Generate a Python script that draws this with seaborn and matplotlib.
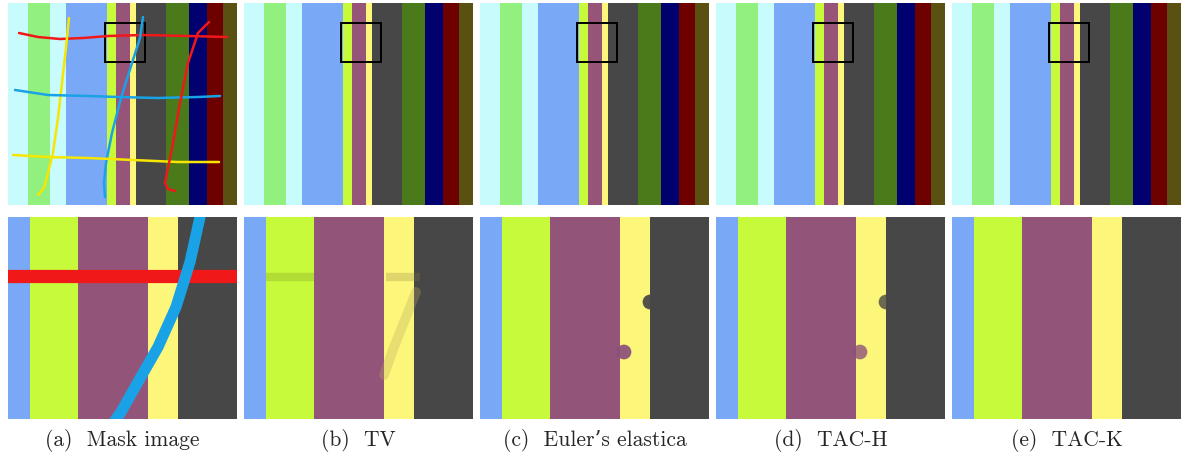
import numpy as np
import matplotlib.pyplot as plt
from matplotlib.colors import ListedColormap
from matplotlib.patches import Rectangle
import seaborn as sns

sns.set_theme(style="white")
plt.rcParams["font.family"] = ["cmr10", "DejaVu Serif"]

# stripe colours and widths (px) for the full test image (top row)
top_colors = ["#c8fbfb", "#92f07e", "#c8fbfb", "#78a8f6", "#c8fa3c", "#965479",
              "#fdf67a", "#474747", "#4a7a1a", "#00006e", "#6e0000", "#5a5012"]
top_widths = [20, 22, 16, 41, 9, 14, 6, 30, 23, 18, 16, 14]
img_height = 202

# zoomed region (bottom row)
zoom_colors = ["#78a8f6", "#c6fa3a", "#93547a", "#fcf67a", "#474747"]
zoom_widths = [22, 48, 70, 30, 59]

# zoom box in the top images (x0, y0, w, h)
zoom_box = (97, 20, 40, 39)

captions = ["(a)  Mask image", "(b)  TV", "(c)  Euler\u2019s elastica",
            "(d)  TAC-H", "(e)  TAC-K"]

# mask strokes in panel (a), pixel coords
red_h_x = [11, 30, 52, 75, 100, 135, 180, 219]
red_h_y = [30, 34, 36, 35, 33, 32, 33, 34]
yel_v_x = [61, 58, 54, 50, 45, 40, 36, 30]
yel_v_y = [15, 45, 80, 115, 150, 170, 185, 192]
blue_v_x = [135, 132, 124, 113, 104, 98, 96, 97]
blue_v_y = [14, 35, 60, 95, 130, 160, 180, 194]
blue_h_x = [7, 40, 80, 110, 150, 190, 212]
blue_h_y = [87, 92, 93, 94, 95, 94, 93]
yel_h_x = [5, 40, 80, 125, 170, 211]
yel_h_y = [152, 154, 155, 157, 159, 159]
red_v_x = [201, 190, 180, 172, 165, 159, 157, 160, 167]
red_v_y = [19, 30, 60, 100, 140, 170, 180, 186, 188]

# mask strokes in the zoomed panel (a)
zred_x = [0, 229]
zred_y = [59, 59]
zblue_x = [192, 182, 168, 150, 130, 113, 106]
zblue_y = [0, 45, 90, 130, 165, 195, 205]

# faint leftovers of the inpainting in zoomed (b), (c), (d)
tv_smear_x = [22, 70, 142, 176]
tv_smear_y = [60, 60, 60, 60]
tv_diag_x = [172, 162, 150, 140]
tv_diag_y = [75, 100, 130, 158]
dark_bump_x = [170, 170]
dark_bump_y = [85, 85]
purple_bump_x = [144, 144]
purple_bump_y = [135, 135]


def stripe_image(colors, widths, height):
    idx = np.repeat(np.arange(len(colors)), widths)
    return np.tile(idx, (height, 1)), ListedColormap(colors)


fig = plt.figure(figsize=(11.85, 4.58), dpi=100)
W, H = 1185, 458
lefts = [8, 244, 480, 716, 952]
pw, ph = 229, 202

top_img, top_cmap = stripe_image(top_colors, top_widths, img_height)
zoom_img, zoom_cmap = stripe_image(zoom_colors, zoom_widths, img_height)

for i, lx in enumerate(lefts):
    ax_t = fig.add_axes([lx / W, 1 - 205 / H, pw / W, ph / H])
    sns.heatmap(top_img, cmap=top_cmap, cbar=False, xticklabels=False,
                yticklabels=False, ax=ax_t, rasterized=True)
    ax_b = fig.add_axes([lx / W, 1 - 419 / H, pw / W, ph / H])
    sns.heatmap(zoom_img, cmap=zoom_cmap, cbar=False, xticklabels=False,
                yticklabels=False, ax=ax_b, rasterized=True)

    x0, y0, bw, bh = zoom_box
    ax_t.add_patch(Rectangle((x0, y0), bw, bh, fill=False, ec="black", lw=1.4))

    if i == 0:
        lw = 1.8
        for xs, ys, c in [(red_h_x, red_h_y, "#f01818"), (yel_v_x, yel_v_y, "#f6e600"),
                          (blue_v_x, blue_v_y, "#1aa2e6"), (blue_h_x, blue_h_y, "#1aa2e6"),
                          (yel_h_x, yel_h_y, "#f6e600"), (red_v_x, red_v_y, "#f01818")]:
            sns.lineplot(x=xs, y=ys, sort=False, estimator=None, color=c,
                         lw=lw, ax=ax_t)
        sns.lineplot(x=zred_x, y=zred_y, sort=False, estimator=None,
                     color="#f01818", lw=9.5, ax=ax_b)
        sns.lineplot(x=zblue_x, y=zblue_y, sort=False, estimator=None,
                     color="#1aa2e6", lw=8, ax=ax_b)
    elif i == 1:
        for k, c in [(0, "#7a8a30"), (2, "#8a7a40")]:
            ax_b.plot(tv_smear_x[k:k + 2], tv_smear_y[k:k + 2], color=c,
                      alpha=0.25, lw=6, solid_capstyle="butt")
        sns.lineplot(x=tv_diag_x, y=tv_diag_y, sort=False, estimator=None,
                     color="#b8a860", alpha=0.3, lw=7, ax=ax_b)
    elif i in (2, 3):
        a_val = 0.75 if i == 2 else 0.55
        sns.scatterplot(x=dark_bump_x, y=dark_bump_y, color="#474747",
                        alpha=a_val, s=110, edgecolor="none", ax=ax_b)
        sns.scatterplot(x=purple_bump_x, y=purple_bump_y, color="#8e527a",
                        alpha=a_val, s=110, edgecolor="none", ax=ax_b)
    ax_b.set_xlim(0, 229)
    ax_b.set_ylim(202, 0)
    for a in (ax_t, ax_b):
        a.set_xlabel("")
        a.set_ylabel("")

    fig.text((lx + pw / 2) / W, 1 - 440 / H, captions[i], ha="center",
             va="center", fontsize=15.5)

plt.savefig("out.png", dpi=100)
